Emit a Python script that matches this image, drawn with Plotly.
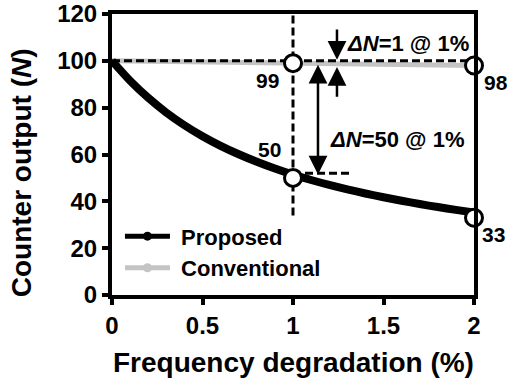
import plotly.graph_objects as go

# Data
x_prop = [0, 0.1, 0.2, 0.3, 0.4, 0.5, 0.6, 0.7, 0.8, 0.9, 1.0,
          1.1, 1.2, 1.3, 1.4, 1.5, 1.6, 1.7, 1.8, 1.9, 2.0]
y_prop = [100, 91.5, 84.2, 77.9, 72.5, 67.8, 63.7, 60.1, 56.9, 54.0, 51.4,
          49.1, 47.0, 45.1, 43.35, 41.75, 40.25, 38.85, 37.55, 36.35, 35.25]
x_conv = [0, 0.5, 1.0, 1.5, 2.0]
y_conv = [100, 99.5, 99, 98.5, 98]

# highlighted points
pt_x = [1, 1, 2, 2]
pt_y = [99, 50, 98, 33]
pt_labels = ["99", "50", "98", "33"]

x_ticks = [0, 0.5, 1, 1.5, 2]
x_tick_text = ["0", "0.5", "1", "1.5", "2"]
y_ticks = [0, 20, 40, 60, 80, 100, 120]

FONT = "Liberation Sans, Arial, sans-serif"
DASH = "8px,4px"
GREY = "#c4c4c4"

fig = go.Figure()

fig.add_trace(go.Scatter(x=x_conv, y=y_conv, mode="lines", name="Conventional",
                         showlegend=False, line=dict(color=GREY, width=5)))
fig.add_trace(go.Scatter(x=x_prop, y=y_prop, mode="lines", name="Proposed",
                         showlegend=False,
                         line=dict(color="black", width=8, shape="spline", smoothing=0.8)))

# legend entries (line with a dot, as in the reference)
fig.add_trace(go.Scatter(x=[None], y=[None], mode="lines+markers", name=" Proposed",
                         line=dict(color="black", width=5),
                         marker=dict(size=9, color="black")))
fig.add_trace(go.Scatter(x=[None], y=[None], mode="lines+markers", name=" Conventional",
                         line=dict(color=GREY, width=5),
                         marker=dict(size=9, color=GREY)))

# reference dashed lines
fig.add_trace(go.Scatter(x=[0, 2], y=[100, 100], mode="lines", showlegend=False,
                         line=dict(color="black", width=3, dash=DASH)))
fig.add_trace(go.Scatter(x=[1, 1], y=[34, 120], mode="lines", showlegend=False,
                         line=dict(color="black", width=3, dash=DASH)))
fig.add_trace(go.Scatter(x=[1, 1.33], y=[52, 52], mode="lines", showlegend=False,
                         line=dict(color="black", width=3, dash=DASH)))

# circles
fig.add_trace(go.Scatter(x=pt_x, y=pt_y, mode="markers", showlegend=False,
                         cliponaxis=False,
                         marker=dict(size=17, color="white",
                                     line=dict(color="black", width=3))))

LBL = dict(family=FONT, size=21, color="black", weight="bold")
ANN = dict(family=FONT, size=22, color="black", weight="bold")
annos = []
# point labels (offsets in pixels from the point)
label_shift = [(-26, -17), (-24, 28), (22, -17), (19, -17)]
for px, py, (sx, sy), t in zip(pt_x, pt_y, label_shift, pt_labels):
    annos.append(dict(x=px, y=py, xref="x", yref="y", text=t, showarrow=False,
                      xshift=sx, yshift=sy, font=LBL))

# double arrow dN=50
annos.append(dict(x=1.138, y=51.5, ax=1.138, ay=99, xref="x", yref="y", axref="x", ayref="y",
                  text="", showarrow=True, arrowhead=2, arrowside="end+start",
                  arrowsize=1.5, arrowwidth=2.5, arrowcolor="black", standoff=0, startstandoff=0))
# dN=1 arrows
annos.append(dict(x=1.243, y=100.5, ax=1.243, ay=114, xref="x", yref="y", axref="x", ayref="y",
                  text="", showarrow=True, arrowhead=2, arrowsize=1.5, arrowwidth=2.5,
                  arrowcolor="black"))
annos.append(dict(x=1.243, y=97.4, ax=1.243, ay=84, xref="x", yref="y", axref="x", ayref="y",
                  text="", showarrow=True, arrowhead=2, arrowsize=1.5, arrowwidth=2.5,
                  arrowcolor="black"))
annos.append(dict(x=1.287, y=107.6, xref="x", yref="y", xanchor="left", showarrow=False,
                  text="<i>ΔN</i>=1 @ 1%", font=ANN))
annos.append(dict(x=1.193, y=66.2, xref="x", yref="y", xanchor="left", showarrow=False,
                  text="<i>ΔN</i>=50 @ 1%", font=ANN))

# axis titles
TITLE = dict(family=FONT, size=28, color="black", weight="bold")
annos.append(dict(x=0.5, y=-0.24, xref="paper", yref="paper", yanchor="middle",
                  showarrow=False, text="Frequency degradation (%)", font=TITLE))
annos.append(dict(x=-0.25, y=0.435, xref="paper", yref="paper", textangle=-90,
                  xanchor="center", yanchor="middle",
                  showarrow=False, text="Counter output (<i>N</i>)", font=TITLE))

fig.update_layout(
    width=508, height=383,
    margin=dict(l=112, r=34, t=14, b=88, autoexpand=False),
    paper_bgcolor="white", plot_bgcolor="white",
    font=dict(family=FONT, color="black", weight="bold"),
    annotations=annos,
    showlegend=True,
    legend=dict(x=0.022, y=0.02, xanchor="left", yanchor="bottom",
                bgcolor="rgba(0,0,0,0)", itemwidth=45,
                font=dict(family=FONT, size=22, color="black", weight="bold"),
                tracegroupgap=0),
    xaxis=dict(range=[0, 2], tickvals=x_ticks, ticktext=x_tick_text, automargin=False,
               showgrid=False, zeroline=False, showline=True, linewidth=4,
               linecolor="black", mirror=True, ticks="outside", ticklen=6,
               tickwidth=4, tickcolor="black",
               tickfont=dict(family=FONT, size=24, color="black", weight="bold")),
    yaxis=dict(range=[0, 120], tickvals=y_ticks, automargin=False,
               showgrid=False, zeroline=False, showline=True, linewidth=4,
               linecolor="black", mirror=True, ticks="outside", ticklen=6,
               tickwidth=4, tickcolor="black",
               tickfont=dict(family=FONT, size=24, color="black", weight="bold")),
)

fig.write_html("out.html", config={"displayModeBar": False},
               post_script="document.body.style.margin='0';document.body.style.overflow='hidden';")
